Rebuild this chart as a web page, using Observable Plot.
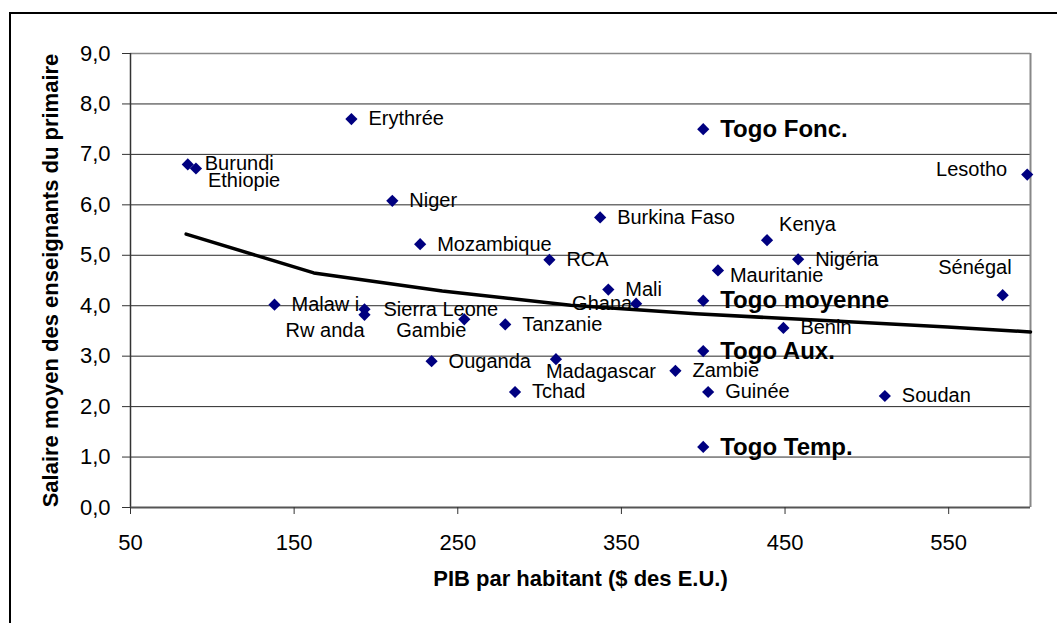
<!DOCTYPE html>
<html><head><meta charset="utf-8">
<script src="https://cdn.jsdelivr.net/npm/d3@7"></script>
<script src="https://cdn.jsdelivr.net/npm/@observablehq/plot@0.6"></script>
<style>
html,body{margin:0;padding:0;background:#fff;overflow:hidden;}
#wrap{position:relative;width:1057px;height:623px;}
#wrap svg{position:absolute;left:0;top:0;}
#frame{position:absolute;left:9px;top:12px;width:1200px;height:800px;border-left:2.5px solid #000;border-top:2.5px solid #000;pointer-events:none;}
</style></head><body><div id="wrap"><div id="frame"></div></div>
<script>
// ---- Data ----
const countries = ["Burundi","Ethiopie","Erythrée","Niger","Malaw i","Sierra Leone","Rw anda","Mozambique","Gambie","Ouganda","Tanzanie","Tchad","RCA","Madagascar","Burkina Faso","Mali","Ghana","Zambie","Togo Fonc.","Togo moyenne","Togo Aux.","Togo Temp.","Guinée","Mauritanie","Kenya","Bénin","Nigéria","Soudan","Sénégal","Lesotho"];
const gdp =    [85, 90, 185, 210, 138, 193, 193, 227, 254, 234, 279, 285, 306, 310, 337, 342, 359, 383, 400, 400, 400, 400, 403, 409, 439, 449, 458, 511, 583, 598];
const salary = [6.80, 6.72, 7.70, 6.08, 4.02, 3.93, 3.82, 5.22, 3.73, 2.90, 3.63, 2.29, 4.91, 2.94, 5.75, 4.32, 4.04, 2.71, 7.50, 4.10, 3.10, 1.20, 2.29, 4.70, 5.30, 3.56, 4.92, 2.21, 4.21, 6.60];
const trendGdp = [84, 162, 240.5, 319, 395.4, 471.8, 549.2, 600];
const trendSalary = [5.42, 4.65, 4.29, 4.01, 3.84, 3.71, 3.58, 3.48];
const xTicks = [50, 150, 250, 350, 450, 550];
const yTicks = [0, 1, 2, 3, 4, 5, 6, 7, 8, 9];
const xTitle = "PIB par habitant ($ des E.U.)";
const yTitle = "Salaire moyen des enseignants du primaire";

// ---- Label placement (layout only) ----
const placement = {
  "Burundi": {dx: 17, dy: -1},
  "Ethiopie": {dx: 12, dy: 12},
  "Rw anda": {dx: 0, dy: 16, anchor: "end"},
  "Sierra Leone": {dx: 19, dy: 0},
  "Gambie": {dx: 2, dy: 11, anchor: "end"},
  "Madagascar": {dx: -10, dy: 12},
  "Ghana": {dx: -4, dy: 0, anchor: "end"},
  "Mauritanie": {dx: 12, dy: 5},
  "Kenya": {dx: 12, dy: -16},
  "Lesotho": {dx: -20, dy: -5, anchor: "end"},
  "Sénégal": {dx: 9, dy: -28, anchor: "end"}
};

const rows = countries.map((c, i) => ({name: c, gdp: gdp[i], salary: salary[i]}));
const trend = trendGdp.map((g, i) => ({gdp: g, salary: trendSalary[i]}));
const FONT = "'Liberation Sans', Arial, Helvetica, sans-serif";
const fmt = d => d.toFixed(1).replace(".", ",");

const labelMarks = rows.map(r => {
  const p = placement[r.name] || {dx: 17, dy: 0};
  const bold = r.name.startsWith("Togo");
  return Plot.text([r], {
    x: "gdp", y: "salary", text: "name",
    dx: p.dx, dy: p.dy, textAnchor: p.anchor || "start",
    fontSize: bold ? 24 : 20, fontWeight: bold ? "bold" : "normal",
    fill: "#000"
  });
});

const chart = Plot.plot({
  width: 1057, height: 623,
  marginLeft: 130, marginRight: 27, marginTop: 53, marginBottom: 116,
  style: {fontFamily: FONT, color: "#000", background: "transparent", overflow: "visible"},
  x: {domain: [50, 600], axis: null},
  y: {domain: [0, 9], axis: null},
  marks: [
    Plot.gridY(yTicks.filter(t => t > 0 && t < 9), {stroke: "#2a2a2a", strokeOpacity: 1}),
    Plot.ruleY([9], {stroke: "#888", strokeWidth: 1.5}),
    Plot.ruleX([600], {stroke: "#888", strokeWidth: 2}),
    Plot.ruleX([50], {stroke: "#333", strokeWidth: 1.5}),
    Plot.ruleY([0], {stroke: "#555", strokeWidth: 2}),
    Plot.axisY(yTicks, {anchor: "left", tickSize: 8, tickPadding: 12, fontSize: 22, tickFormat: fmt, label: null, stroke: "#333", fill: "#000"}),
    Plot.axisX(xTicks, {anchor: "bottom", tickSize: 7, tickPadding: 20, fontSize: 22, tickFormat: d => String(d), label: null, stroke: "#333", fill: "#000"}),
    Plot.dot(rows, {x: "gdp", y: "salary", symbol: "diamond2", r: 5.5, fill: "#000080", stroke: "none"}),
    ...labelMarks,
    Plot.line(trend, {x: "gdp", y: "salary", stroke: "#000", strokeWidth: 3.5}),
    Plot.text([xTitle], {frameAnchor: "bottom", dy: 78, fontSize: 22, fontWeight: "bold", fill: "#000"}),
    Plot.text([yTitle], {frameAnchor: "left", dx: -80, rotate: -90, textAnchor: "middle", fontSize: 22, fontWeight: "bold", fill: "#000"})
  ]
});
document.getElementById("wrap").insertBefore(chart, document.getElementById("frame"));
</script>
</body></html>
